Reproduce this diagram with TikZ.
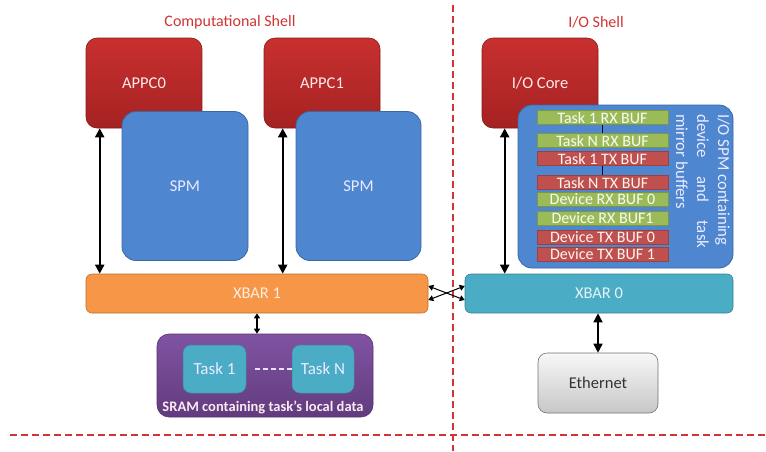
\documentclass[tikz,border=0pt]{standalone}
\usepackage{fontspec}
\setmainfont{Carlito}
\usetikzlibrary{arrows.meta}

\definecolor{corered}{HTML}{C8302F}
\definecolor{coredark}{HTML}{A52222}
\definecolor{spmblue}{HTML}{4F86D0}
\definecolor{spmline}{HTML}{3A67A6}
\definecolor{xbarorange}{HTML}{F79646}
\definecolor{xbarteal}{HTML}{4BACC6}
\definecolor{srampurple}{HTML}{7A4A9E}
\definecolor{bufgreen}{HTML}{9BBB59}
\definecolor{bufred}{HTML}{C0504D}
\definecolor{shellred}{HTML}{D03434}

\tikzset{
  core/.style={draw=coredark!80!black, line width=0.6pt, rounded corners=11pt,
    top color=corered, bottom color=coredark, text=white!92!red,
    minimum width=116pt, minimum height=90pt, font=\fontsize{16.5}{18}\selectfont},
  spmbox/.style={draw=spmline, line width=0.8pt, rounded corners=14pt, fill=spmblue,
    text=white!92!blue, font=\fontsize{16.5}{18}\selectfont},
  xbar/.style={draw=#1!75!black, line width=0.6pt, rounded corners=6pt, fill=#1,
    minimum height=39pt, text=white!85!#1, font=\fontsize{16.5}{18}\selectfont},
  taskbox/.style={draw=xbarteal!80!black, line width=0.5pt, rounded corners=8pt, fill=xbarteal,
    minimum width=63pt, minimum height=48pt, text=white!92!blue, font=\fontsize{17}{18}\selectfont},
  buf/.style={draw=#1!80!black, line width=0.5pt, fill=#1, minimum width=131pt,
    minimum height=14pt, inner sep=0pt, text=white!94!#1, font=\fontsize{16}{14}\selectfont},
  shell/.style={text=shellred, font=\fontsize{16}{18}\selectfont},
  bigarrow/.style={line width=2pt, {Triangle[length=9pt,width=9pt]}-{Triangle[length=9pt,width=9pt]}},
  smallarrow/.style={line width=1.4pt, {Triangle[length=5pt,width=6pt]}-{Triangle[length=5pt,width=6pt]}},
  divider/.style={shellred, line width=1.8pt, dash pattern=on 7pt off 4pt}
}

\begin{document}
\begin{tikzpicture}[x=1pt, y=-1pt]
\useasboundingbox (0,0) rectangle (766,451);

% shell titles and dividers
\node[shell] (compshell) at (230,22) {Computational Shell};
\node[shell] (ioshell) at (596,22) {I/O Shell};
\draw[divider] (453,5) -- (453,451);
\draw[divider] (10,435) -- (766,435);

% computational shell
\node[core] (appc0) at (144,83) {APPC0};
\node[core] (appc1) at (322,83) {APPC1};
\node[spmbox, minimum width=126pt, minimum height=149pt] (spm0) at (185,186) {SPM};
\node[spmbox, minimum width=125pt, minimum height=149pt] (spm1) at (358.5,186) {SPM};
\node[xbar=xbarorange, minimum width=342pt] (xbar1) at (257,293.5) {XBAR 1};

% SRAM
\node[draw=srampurple!70!black, line width=0.6pt, rounded corners=12pt,
  top color=srampurple!95!white, bottom color=srampurple!80!black,
  minimum width=216pt, minimum height=83pt] (sram) at (265,375.5) {};
\node[taskbox] (task1) at (214.5,369) {Task 1};
\node[taskbox, minimum width=62pt] (taskn) at (323,369) {Task N};
\node[text=white!92!purple, font=\bfseries\fontsize{14.5}{16}\selectfont] (sramlabel)
  at (263,407) {SRAM containing task’s local data};
\draw[white!90!blue, line width=1.6pt, dash pattern=on 5pt off 3pt] (task1.east) ++(9,0) -- (taskn.west);

% I/O shell
\node[core] (iocore) at (540,83) {I/O Core};
\node[spmbox, minimum width=215pt, minimum height=163pt] (iospm) at (625.5,186.5) {};
\node[buf=bufgreen] (t1rx) at (602.5,117.5) {Task 1 RX BUF};
\node[buf=bufgreen] (tnrx) at (602.5,140.5) {Task N RX BUF};
\node[buf=bufred] (t1tx) at (602.5,158.5) {Task 1 TX BUF};
\node[buf=bufred] (tntx) at (602.5,182.5) {Task N TX BUF};
\node[buf=bufgreen] (drx0) at (602.5,199.5) {Device RX BUF 0};
\node[buf=bufgreen] (drx1) at (602.5,218) {Device RX BUF1};
\node[buf=bufred] (dtx0) at (602.5,237.5) {Device TX BUF 0};
\node[buf=bufred] (dtx1) at (602.5,254.5) {Device TX BUF 1};
\draw[black!80!blue, line width=1pt] (t1rx) -- (tnrx);
\draw[black!80!blue, line width=1pt] (t1tx) -- (tntx);
\node[rotate=-90, text width=134pt, align=justify, inner sep=0pt, text=white!92!blue,
  font=\fontsize{16.8}{21}\selectfont, anchor=north west] (iospmlabel) at (730,114)
  {\mbox{I/O SPM containing}\linebreak device and task\linebreak mirror buffers};
\node[xbar=xbarteal, minimum width=268pt] (xbar0) at (599,293.5) {XBAR 0};
\node[draw=black!55, line width=0.6pt, rounded corners=9pt, top color=white!97!black,
  bottom color=black!22, text=black!80, minimum width=120pt, minimum height=60pt,
  font=\fontsize{16.5}{18}\selectfont] (ethernet) at (598,383) {Ethernet};

% connections
\draw[bigarrow] ([xshift=14pt]appc0.south west) -- ([xshift=14pt]appc0.south west |- xbar1.north);
\draw[bigarrow] ([xshift=19pt]appc1.south west) -- ([xshift=19pt]appc1.south west |- xbar1.north);
\draw[bigarrow] ([xshift=23pt]iocore.south west) -- ([xshift=23pt]iocore.south west |- xbar0.north);
\draw[smallarrow] (xbar1.south) -- (xbar1.south |- sram.north);
\draw[bigarrow, line width=1.6pt] (ethernet.north) -- (ethernet.north |- xbar0.south);
\draw[smallarrow, line width=1pt] ([yshift=-6.5pt]xbar1.east) -- ([yshift=7.5pt]xbar0.west);
\draw[smallarrow, line width=1pt] ([yshift=7.5pt]xbar1.east) -- ([yshift=-6.5pt]xbar0.west);
\end{tikzpicture}
\end{document}
